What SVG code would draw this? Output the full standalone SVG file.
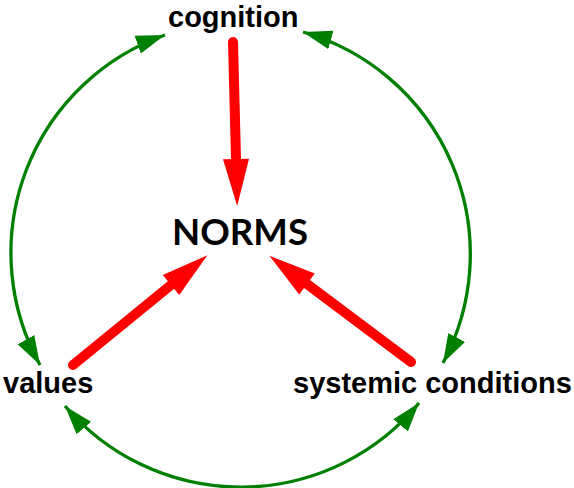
<svg xmlns="http://www.w3.org/2000/svg" width="574" height="488" viewBox="0 0 574 488">
<style>
.lbl{font-family:"Liberation Sans",Arial,sans-serif;font-weight:bold;font-size:29px;fill:#000}
.main{font-family:Lato,"DejaVu Sans",sans-serif;font-weight:bold;font-size:37px;fill:#000}
.g{fill:none;stroke:#008000;stroke-width:3.3;marker-start:url(#ga);marker-end:url(#ga)}
.r{fill:none;stroke:#ff0000;stroke-width:10;stroke-linecap:round;marker-end:url(#ra)}
</style>
<defs>
<marker id="ga" markerUnits="userSpaceOnUse" markerWidth="30" markerHeight="20" refX="29" refY="9.5" orient="auto-start-reverse" viewBox="0 0 30 19">
<path d="M0,0 L29,9.5 L0,19 z" fill="#008000"/>
</marker>
<marker id="ra" markerUnits="userSpaceOnUse" markerWidth="48" markerHeight="28" refX="0" refY="13" orient="auto" viewBox="0 0 48 26" overflow="visible">
<path d="M0,0 L47,13 L0,26 z" fill="#ff0000"/>
</marker>
</defs>
<g id="connectors">
<path class="g" d="M165,35 A231,231 0 0 0 40,365"/>
<path class="g" d="M303,32 A231,231 0 0 1 443,363"/>
<path class="g" d="M65,406 A231,231 0 0 0 419,403"/>
<path class="r" d="M233,42 L236,159"/>
<path class="r" d="M73,365 L171,285"/>
<path class="r" d="M411,362 L307,284"/>
</g>
<g id="cognition"><text class="lbl" x="168" y="27">cognition</text></g>
<g id="norms"><text class="main" x="172" y="245" textLength="136" lengthAdjust="spacingAndGlyphs">NORMS</text></g>
<g id="values"><text class="lbl" x="3" y="393">values</text></g>
<g id="systemic"><text class="lbl" x="293" y="393">systemic conditions</text></g>
</svg>
